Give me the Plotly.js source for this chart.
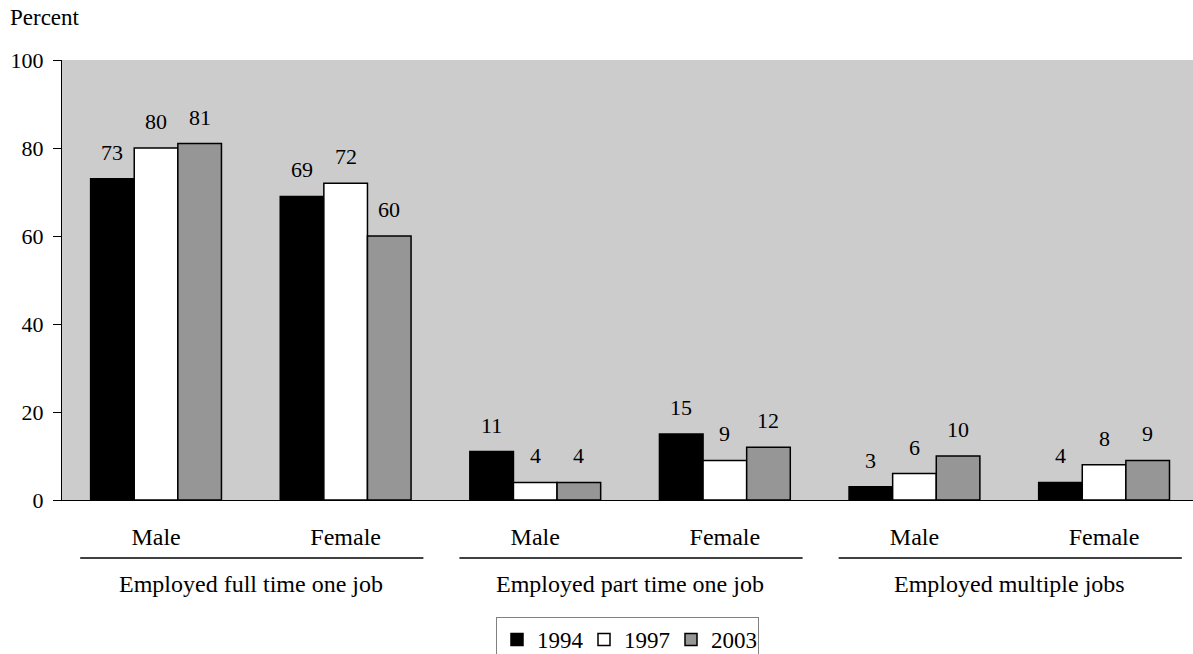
<!DOCTYPE html>
<html>
<head>
<meta charset="utf-8">
<script src="https://cdn.plot.ly/plotly-3.0.1.min.js"></script>
<style>html,body{margin:0;padding:0;background:#fff;overflow:hidden;width:1193px;height:654px;}#chart{width:1193px;height:654px;}</style>
</head>
<body>
<div id="chart"></div>
<script>
// Data
const subLabels = ["Male", "Female", "Male", "Female", "Male", "Female"];
const groupLabels = ["Employed full time one job", "Employed part time one job", "Employed multiple jobs"];
const seriesNames = ["1994", "1997", "2003"];
const values1994 = [73, 69, 11, 15, 3, 4];
const values1997 = [80, 72, 4, 9, 6, 8];
const values2003 = [81, 60, 4, 12, 10, 9];
const yTicks = [0, 20, 40, 60, 80, 100];

const FONT = "Liberation Serif, Times New Roman, DejaVu Serif, serif";
const colors = ["#000000", "#ffffff", "#969696"];
const allValues = [values1994, values1997, values2003];
const xPos = subLabels.map((_, i) => i);
const barW = 0.23;

const traces = allValues.map((vals, j) => ({
  type: "bar",
  name: seriesNames[j],
  x: xPos,
  y: vals,
  marker: {color: colors[j], line: {color: "#000000", width: 1.5}},
  hoverinfo: "skip"
}));

const annotations = [];
allValues.forEach((vals, j) => {
  vals.forEach((v, i) => {
    annotations.push({
      xref: "x", yref: "y", x: i + (j - 1) * barW, y: v,
      text: String(v), showarrow: false, yanchor: "bottom", yshift: 12,
      font: {family: FONT, size: 22, color: "#000"}
    });
  });
});
groupLabels.forEach((g, k) => {
  annotations.push({
    xref: "x", yref: "paper", x: 2 * k + 0.5, y: -0.19,
    text: g, showarrow: false, yanchor: "middle", xanchor: "center",
    font: {family: FONT, size: 24, color: "#000"}
  });
});
annotations.push({
  xref: "paper", yref: "paper", x: -0.0477, y: 1.0955, xanchor: "left", yanchor: "middle",
  text: "Percent", showarrow: false, font: {family: FONT, size: 23, color: "#000"}
});

const shapes = groupLabels.map((g, k) => ({
  type: "line", xref: "x", yref: "paper",
  x0: 2 * k - 0.4, x1: 2 * k + 1.41, y0: -0.1318, y1: -0.1318,
  line: {color: "#000", width: 1.5}
}));

const layout = {
  width: 1193, height: 654,
  margin: {l: 62, r: 0, t: 60, b: 154, pad: 0, autoexpand: false},
  paper_bgcolor: "#ffffff",
  plot_bgcolor: "#cccccc",
  font: {family: FONT, size: 23, color: "#000"},
  barmode: "group",
  bargap: 0.31,
  bargroupgap: 0,
  showlegend: true,
  legend: {
    orientation: "h", x: 0.5, xanchor: "center", y: -0.266, yanchor: "top",
    font: {family: FONT, size: 23, color: "#000"},
    bgcolor: "#ffffff", bordercolor: "#808080", borderwidth: 1,
    traceorder: "normal", itemwidth: 30, entrywidth: 42, entrywidthmode: "pixels"
  },
  xaxis: {
    range: [-0.496, 5.469],
    tickvals: xPos, ticktext: subLabels,
    ticks: "", showgrid: false, zeroline: false,
    showline: true, linecolor: "#000", linewidth: 1,
    ticklabelstandoff: 15,
    tickfont: {family: FONT, size: 24, color: "#000"},
    fixedrange: true
  },
  yaxis: {
    range: [0, 100], tickvals: yTicks,
    ticks: "outside", ticklen: 8, tickcolor: "#000", tickwidth: 1,
    showline: true, linecolor: "#000", linewidth: 1,
    showgrid: false, zeroline: false,
    ticklabelstandoff: 5,
    tickfont: {family: FONT, size: 22, color: "#000"},
    fixedrange: true
  },
  annotations: annotations,
  shapes: shapes
};

Plotly.newPlot("chart", traces, layout, {displayModeBar: false, staticPlot: true});
</script>
</body>
</html>
